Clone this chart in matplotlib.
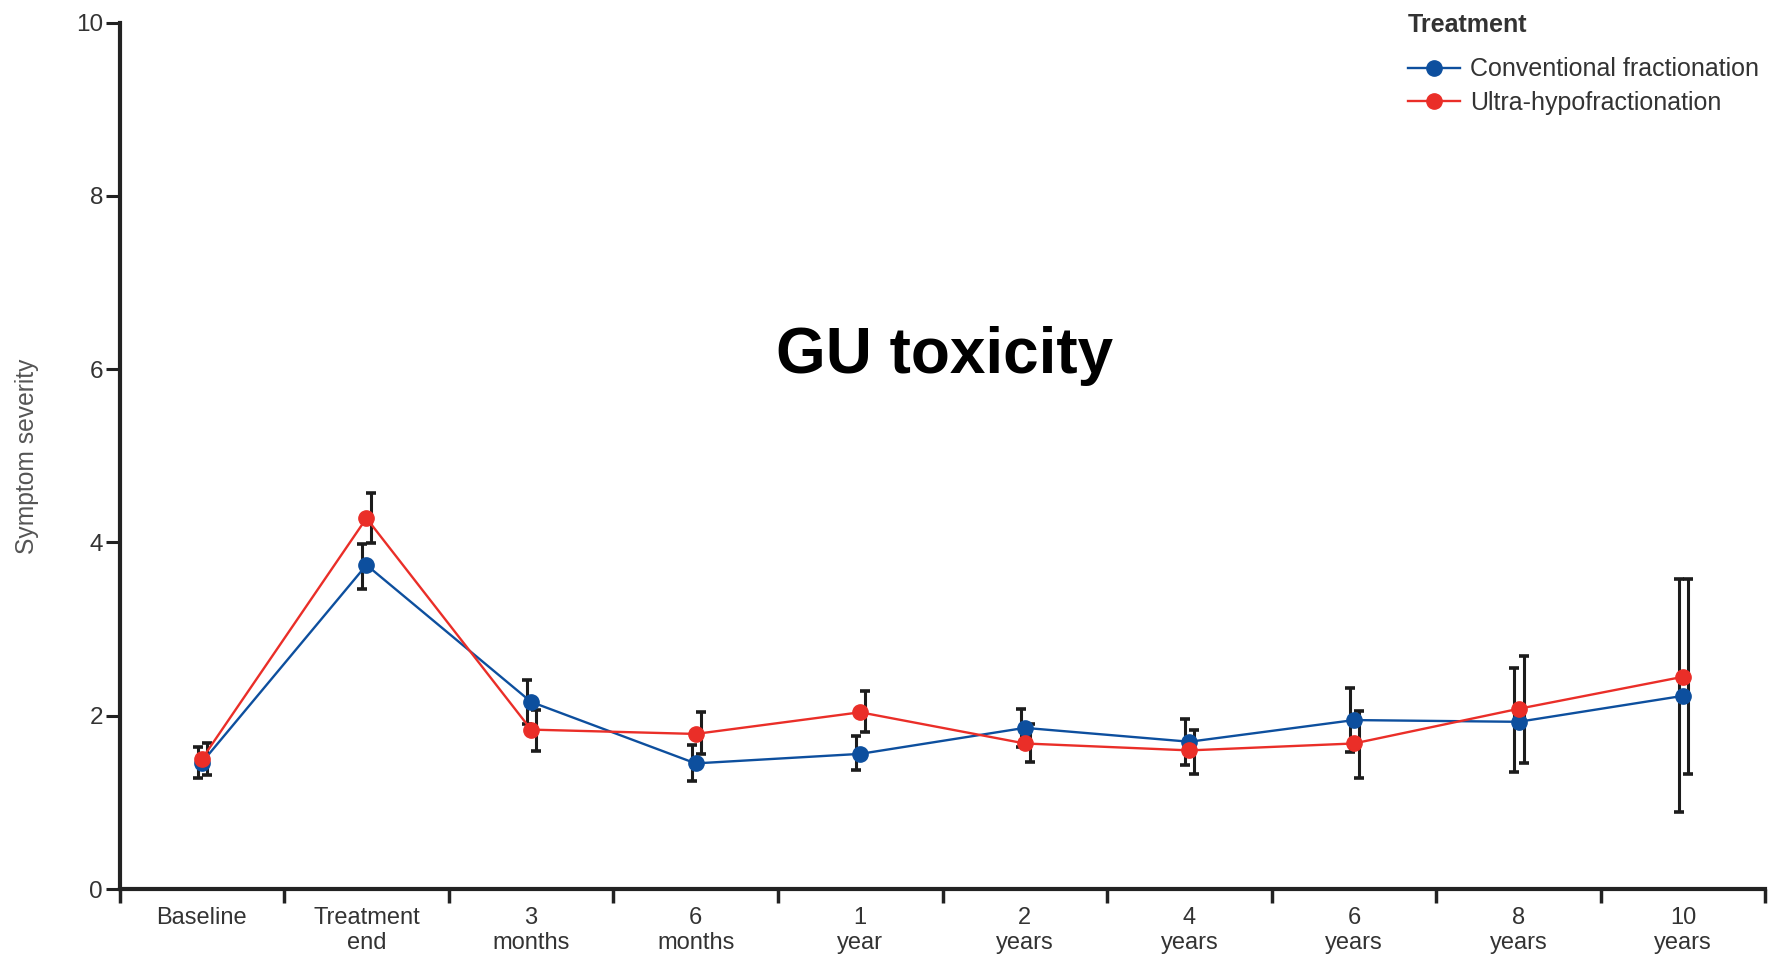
import numpy as np
import matplotlib
matplotlib.use("Agg")
import matplotlib.pyplot as plt

#
# Symptom severity (GU toxicity) over time, two treatment arms.
# Values: mean and 95% CI bounds.
#
categories = ["Baseline", "Treatment\nend", "3\nmonths", "6\nmonths", "1\nyear",
              "2\nyears", "4\nyears", "6\nyears", "8\nyears", "10\nyears"]

conv_mean = [1.46, 3.74, 2.16, 1.45, 1.56, 1.86, 1.70, 1.95, 1.93, 2.23]
conv_lo = [1.28, 3.46, 1.90, 1.25, 1.37, 1.64, 1.43, 1.58, 1.35, 0.89]
conv_hi = [1.64, 3.98, 2.41, 1.66, 1.77, 2.08, 1.96, 2.32, 2.55, 3.58]

ultra_mean = [1.50, 4.28, 1.84, 1.79, 2.04, 1.68, 1.60, 1.68, 2.08, 2.45]
ultra_lo = [1.32, 3.99, 1.59, 1.56, 1.81, 1.47, 1.33, 1.28, 1.46, 1.33]
ultra_hi = [1.68, 4.57, 2.07, 2.04, 2.28, 1.90, 1.84, 2.06, 2.69, 3.58]

yticks = [0, 2, 4, 6, 8, 10]

blue = "#0d4f9e"
red = "#ea2e28"
bar_col = "#1c1c1c"
text_col = "#333333"
font = "Liberation Sans"

plt.rcParams["font.family"] = [font, "DejaVu Sans"]

x = np.arange(len(categories))

fig = plt.figure(figsize=(17.69, 9.58), dpi=100)
ax = fig.add_axes([0.0676, 0.072, 0.9304, 0.9044])

# error bars first, slightly dodged, so the dots sit on top of them
for off, m, lo, hi in [(-0.025, conv_mean, conv_lo, conv_hi),
                       (0.03, ultra_mean, ultra_lo, ultra_hi)]:
    m = np.array(m)
    err = [m - np.array(lo), np.array(hi) - m]
    ax.errorbar(x + off, m, yerr=err, fmt="none", ecolor=bar_col,
                elinewidth=2.2, capsize=3.5, capthick=2.6, zorder=2)

ax.plot(x, conv_mean, "-o", color=blue, lw=1.7, ms=11,
        label="Conventional fractionation", zorder=3)
ax.plot(x, ultra_mean, "-o", color=red, lw=1.7, ms=11,
        label="Ultra-hypofractionation", zorder=4)

ax.set_xlim(-0.5, len(categories) - 0.5)
ax.set_ylim(0, 10)

# category boundaries get the tick marks, labels sit in the middle
ax.set_xticks(np.arange(-0.5, len(categories)), [""] * (len(categories) + 1))
ax.set_xticks(x, categories, minor=True)
ax.tick_params(axis="x", which="major", length=10, width=2.5, color="#222222")
ax.tick_params(axis="x", which="minor", length=0, pad=13, labelsize=17,
               labelcolor=text_col)
for lab in ax.get_xticklabels(minor=True):
    lab.set_linespacing(1.15)

ax.set_yticks(yticks)
ax.tick_params(axis="y", length=10, width=2.2, color="#222222", labelsize=17.5,
               labelcolor=text_col, pad=2)

for s in ["top", "right"]:
    ax.spines[s].set_visible(False)
ax.spines["left"].set_linewidth(3)
ax.spines["bottom"].set_linewidth(3)
ax.spines["left"].set_color("#222222")
ax.spines["bottom"].set_color("#222222")

ax.set_ylabel("Symptom severity", fontsize=17.7, color="#555555")
ax.yaxis.set_label_coords(-0.049, 0.5)

# legend entries, with the title set on its own (it sits a bit higher)
leg = ax.legend(loc="upper left", bbox_to_anchor=(0.7959, 0.940),
                bbox_transform=fig.transFigure, frameon=False, fontsize=18,
                handlelength=2.08, handletextpad=0.4, labelspacing=0.38,
                borderpad=0, borderaxespad=0)
for t in leg.get_texts():
    t.set_color(text_col)
fig.text(0.7959, 1 - 25 / 958, "Treatment", ha="left", va="center",
         fontsize=18, fontweight="bold", color=text_col)

fig.text(0.534, 0.628, "GU toxicity", ha="center", va="center",
         fontsize=46, fontweight="bold", color="black")

fig.savefig("out.png", dpi=100)
